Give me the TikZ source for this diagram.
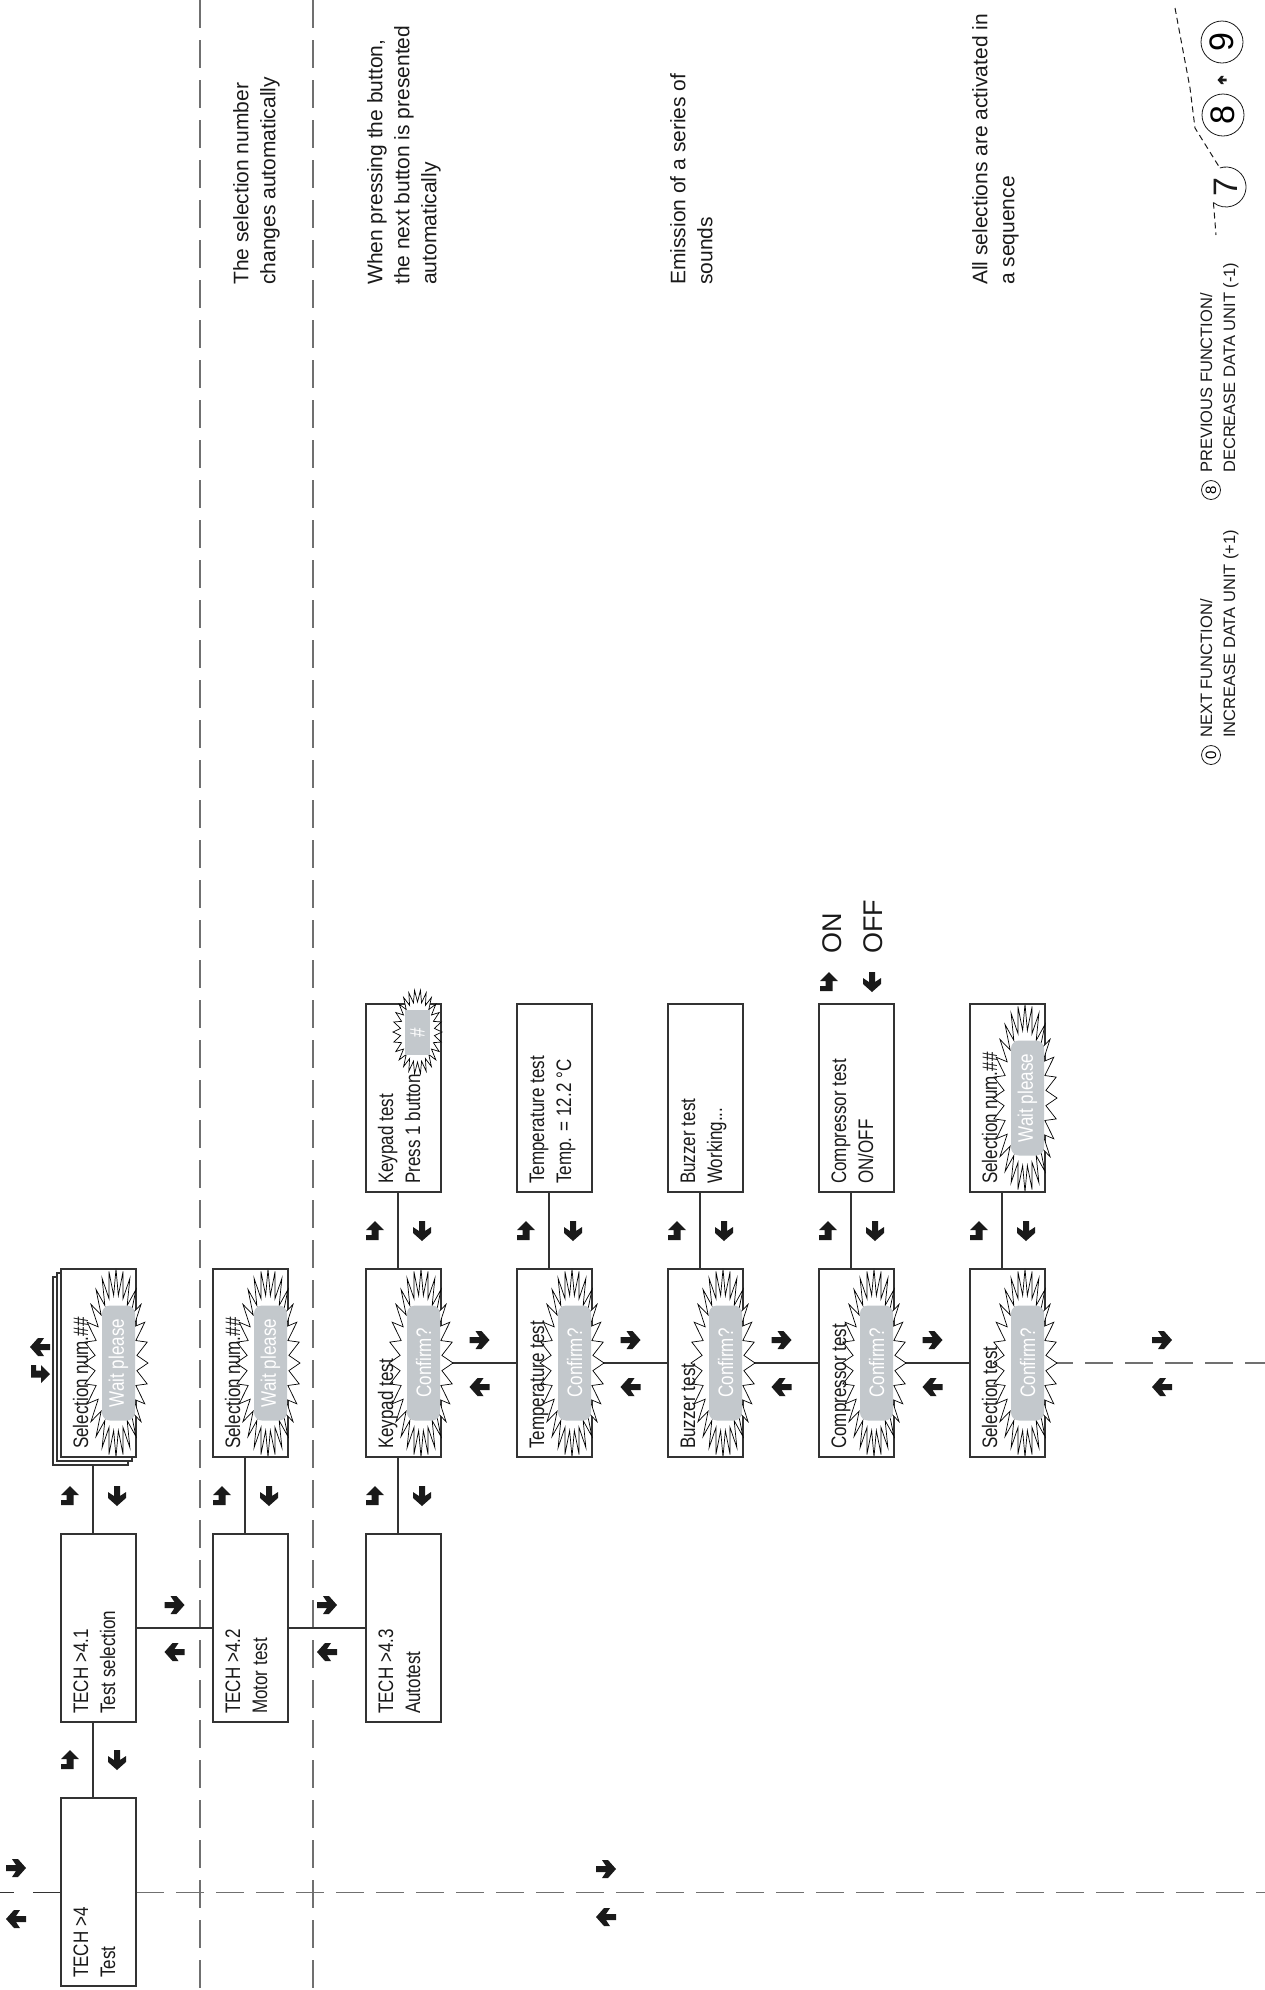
\documentclass[tikz,border=0pt]{standalone}
\usepackage{fontspec}
\setmainfont{Liberation Sans}
\newfontfamily\boxfont[FakeStretch=0.81]{Liberation Sans}
\usetikzlibrary{calc}
\definecolor{boxc}{HTML}{333333}
\definecolor{dashc}{HTML}{707070}
\definecolor{grayc}{HTML}{C3C8CC}
\definecolor{inkc}{HTML}{1A1A1A}
\tikzset{
 dbox/.style={draw=boxc, line width=1.3pt, fill=white, rectangle, minimum width=75pt, minimum height=188pt, inner sep=0pt},
 conn/.style={draw=boxc, line width=1.2pt},
 dline/.style={draw=dashc, line width=1.8pt, dash pattern=on 28pt off 12pt},
 btxt/.style={rotate=90, anchor=base west, inner sep=0pt, text=inkc, font=\boxfont\fontsize{21}{26}\selectfont},
 wtxt/.style={rotate=90, anchor=center, inner sep=0pt, text=white, font=\boxfont\fontsize{21}{26}\selectfont},
 grect/.style={fill=grayc, rounded corners=8pt, minimum width=33pt, minimum height=115pt, inner sep=0pt, rectangle},
 burstst/.style={fill=white, draw=black, line width=0.7pt, line join=miter},
 note/.style={rotate=90, anchor=north west, inner sep=0pt, align=left, text=inkc, font=\fontsize{21}{27}\selectfont},
 legend/.style={rotate=90, anchor=north west, inner sep=0pt, align=left, text=inkc, font=\fontsize{16.5}{23}\selectfont},
 keycirc/.style={circle, draw=inkc, line width=0.8pt, rotate=90, inner sep=0pt},
 keyd/.style={draw=inkc, line width=1pt, dash pattern=on 6pt off 4pt},
}
\newcommand\burst[7]{%
 \pgfmathtruncatemacro\bn{2*#7-1}%
 \filldraw[burstst] plot[samples at={0,...,\bn}, variable=\k]
   ({#1+(#3-(#3-#5)*mod(\k,2))*cos(\k*180/#7)}, {#2+(#4-(#4-#6)*mod(\k,2))*sin(\k*180/#7)}) -- cycle;
}
\newcommand\dispbox[5]{%
 \node[dbox] (#1) at ({#2+37.5},{#3+94}) {};
 \node[btxt] (#1-a) at ({#2+27},{#3+180}) {#4};
 \node[btxt] (#1-b) at ({#2+54},{#3+180}) {#5};
}
\newcommand\confbox[5]{%
 \node[dbox] (#1) at ({#2+37.5},{#3+94}) {};
 \burst{#2+55}{#3+94}{32}{94}{21}{68}{28}
 \node[grect] (#1-g) at ({#2+57.5},{#3+94}) {};
 \node[wtxt] (#1-w) at ({#2+57.5},{#3+94}) {#5};
 \node[btxt] (#1-a) at ({#2+27},{#3+180}) {#4};
}
\newcommand\arrR[3]{\fill[inkc, shift={(#1,#2)}, rotate=#3] (-10,-3) -- (0,-3) -- (-4,-9) -- (2,-9) -- (10,0) -- (2,9) -- (-4,9) -- (0,3) -- (-10,3) -- cycle;}
\newcommand\arrH[3]{\fill[inkc, shift={(#1,#2)}, rotate=#3] (0,-10) -- (9,-1) -- (3.5,-1) -- (3.5,9) -- (-9,9) -- (-9,4) -- (-3.5,4) -- (-3.5,-1) -- (-9,-1) -- cycle;}
\begin{document}
\begin{tikzpicture}[x=1pt,y=-1pt]
\useasboundingbox (0,0) rectangle (1265,1990);
% dashed separators
\coordinate (v1t) at (200,0); \coordinate (v1b) at (200,1990);
\coordinate (v2t) at (313,0); \coordinate (v2b) at (313,1990);
\draw[dline] (v1t) -- (v1b);
\draw[dline] (v2t) -- (v2b);
% boxes (nodes defined first for connectors: draw connectors after via on background ordering)
\coordinate (hR) at (1265,1892.5);
\coordinate (hL0) at (0,1892.5); \coordinate (hL1) at (14,1892.5); \coordinate (hL2) at (33,1892.5);
\coordinate (cR) at (1265,1363);
% connectors drawn with explicit coordinates of box anchors
\draw[conn] (93,1798) -- (93,1722);
\draw[conn] (93,1534) -- (93,1457);
\draw[conn] (245,1534) -- (245,1457);
\draw[conn] (398,1534) -- (398,1457);
\draw[conn] (398,1269) -- (398,1192);
\draw[conn] (549,1269) -- (549,1192);
\draw[conn] (700,1269) -- (700,1192);
\draw[conn] (851,1269) -- (851,1192);
\draw[conn] (1002,1269) -- (1002,1192);
\draw[conn] (136,1628) -- (213,1628);
\draw[conn] (288,1628) -- (366,1628);
\draw[conn] (442,1363) -- (517,1363);
\draw[conn] (593,1363) -- (668,1363);
\draw[conn] (744,1363) -- (819,1363);
\draw[conn] (895,1363) -- (970,1363);
\draw[dline] (1045,1363) -- (cR);
\draw[dline] (136,1892.5) -- (hR);
\draw[conn] (hL2) -- (61,1892.5);
\draw[conn] (hL0) -- (hL1);
% TECH column
\dispbox{tech4}{61}{1798}{TECH >4}{Test}
\dispbox{tech41}{61}{1534}{TECH >4.1}{Test selection}
\dispbox{tech42}{213}{1534}{TECH >4.2}{Motor test}
\dispbox{tech43}{366}{1534}{TECH >4.3}{Autotest}
% stacked selection
\node[dbox] (selA-s2) at ({61+37.5-8},{1269+94+8}) {};
\node[dbox] (selA-s1) at ({61+37.5-4},{1269+94+4}) {};
\confbox{selA}{61}{1269}{Selection num.\#\#}{Wait please}
\confbox{selB}{213}{1269}{Selection num.\#\#}{Wait please}
\confbox{keyC}{366}{1269}{Keypad test}{Confirm?}
\confbox{tempC}{517}{1269}{Temperature test}{Confirm?}
\confbox{buzC}{668}{1269}{Buzzer test}{Confirm?}
\confbox{compC}{819}{1269}{Compressor test}{Confirm?}
\confbox{selC}{970}{1269}{Selection test}{Confirm?}
% top row
\dispbox{keyP}{366}{1004}{Keypad test}{Press 1 button}
\burst{417.5}{1032}{24.5}{42}{17}{30}{26}
\node[fill=grayc, minimum width=25pt, minimum height=45pt, inner sep=0pt] (keyP-g) at (417.5,1032.5) {};
\node[wtxt] (keyP-h) at (417.5,1032.5) {\#};
\dispbox{tempP}{517}{1004}{Temperature test}{Temp. = 12.2 °C}
\dispbox{buzP}{668}{1004}{Buzzer test}{Working...}
\dispbox{compP}{819}{1004}{Compressor test}{ON/OFF}
\confbox{selP}{970}{1004}{Selection num.\#\#}{Wait please}
% arrows on vertical connectors
\arrH{70}{1760}{0} \arrR{117}{1760}{-90}
\arrH{70}{1496}{0} \arrR{117}{1496}{-90}
\arrH{222}{1496}{0} \arrR{269}{1496}{-90}
\arrH{375}{1496}{0} \arrR{422}{1496}{-90}
\arrH{375}{1231}{0} \arrR{422}{1231}{-90}
\arrH{526}{1231}{0} \arrR{573}{1231}{-90}
\arrH{677}{1231}{0} \arrR{724}{1231}{-90}
\arrH{828}{1231}{0} \arrR{875}{1231}{-90}
\arrH{979}{1231}{0} \arrR{1026}{1231}{-90}
\arrH{829}{982}{0} \arrR{872}{982}{-90}
% arrows on horizontal connectors
\arrR{174.5}{1605}{0} \arrR{174.5}{1652}{180}
\arrR{327}{1605}{0} \arrR{327}{1652}{180}
\arrR{479.5}{1340}{0} \arrR{479.5}{1387}{180}
\arrR{630.5}{1340}{0} \arrR{630.5}{1387}{180}
\arrR{781.5}{1340}{0} \arrR{781.5}{1387}{180}
\arrR{932.5}{1340}{0} \arrR{932.5}{1387}{180}
\arrR{1162}{1340}{0} \arrR{1162}{1387}{180}
\arrR{16}{1868}{0} \arrR{16}{1919}{180}
\arrR{606}{1869}{0} \arrR{606}{1917}{180}
\arrR{40}{1347}{180} \arrH{40}{1374}{-90}
% ON / OFF
\node[rotate=90, anchor=base west, inner sep=0pt, text=inkc, font=\fontsize{27}{27}\selectfont] (on) at (841,954) {ON};
\node[rotate=90, anchor=base west, inner sep=0pt, text=inkc, font=\fontsize{27}{27}\selectfont] (off) at (882,954) {OFF};
% notes
\node[note] (n1) at (233,285) {The selection number\\changes automatically};
\node[note] (n2) at (367,285) {When pressing the button,\\the next button is presented\\automatically};
\node[note] (n3) at (670,285) {Emission of a series of\\sounds};
\node[note] (n4) at (972,285) {All selections are activated in\\a sequence};
% legend
\node[keycirc, minimum size=19pt, font=\fontsize{15}{15}\selectfont] (lg0) at (1211,755) {0};
\node[legend] (lg0t) at (1200,738) {NEXT FUNCTION/\\INCREASE DATA UNIT (+1)};
\node[keycirc, minimum size=19pt, font=\fontsize{15}{15}\selectfont] (lg8) at (1211,490) {8};
\node[legend] (lg8t) at (1200,473) {PREVIOUS FUNCTION/\\DECREASE DATA UNIT (-1)};
% keypad sketch
\coordinate (c7) at (1226,187);
\draw[keyd] (1175,8) -- (1190,88) -- (1195,128) -- ($(c7)+(-108:20)$);
\draw[keyd] ($(c7)+(129:20)$) -- (1216,235);
\draw[inkc, line width=0.8pt] ($(c7)+(-108:20)$) arc[start angle=-108, end angle=129, radius=20];
\node[rotate=90, inner sep=0pt, text=inkc, font=\fontsize{34}{34}\selectfont] (k7) at (c7) {7};
\node[keycirc, minimum size=42pt, font=\fontsize{34}{34}\selectfont] (k8) at (1223,115) {8};
\node[keycirc, minimum size=42pt, font=\fontsize{34}{34}\selectfont] (k9) at (1222,42) {9};
\fill[inkc, shift={(1222,80)}, rotate=180, scale=0.45] (-10,-3) -- (0,-3) -- (-4,-9) -- (2,-9) -- (10,0) -- (2,9) -- (-4,9) -- (0,3) -- (-10,3) -- cycle;
\end{tikzpicture}
\end{document}
